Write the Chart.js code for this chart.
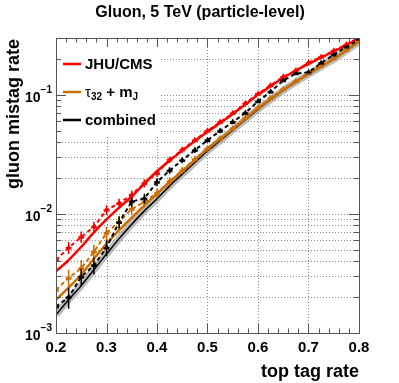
<!DOCTYPE html>
<html>
<head>
<meta charset="utf-8">
<script src="https://cdn.jsdelivr.net/npm/chart.js@4.4.1/dist/chart.umd.min.js"></script>
<style>
  html, body { margin: 0; padding: 0; background: #fff; }
  canvas { display: block; }
</style>
</head>
<body>
<canvas id="mistagChart" width="399" height="383"></canvas>
<script>
// top tag rate (x) sampled every 0.025
const topTagRate = [0.2, 0.225, 0.25, 0.275, 0.3, 0.325, 0.35, 0.375, 0.4, 0.425, 0.45, 0.475, 0.5,
    0.525, 0.55, 0.575, 0.6, 0.625, 0.65, 0.675, 0.7, 0.725, 0.75, 0.775, 0.8];

// smooth curves
const jhuSmooth = [0.0033, 0.0041, 0.0053, 0.0070, 0.0090, 0.0113, 0.0140, 0.0180, 0.0228, 0.0280, 0.0340, 0.0410, 0.0490,
    0.0580, 0.0690, 0.0830, 0.100, 0.118, 0.139, 0.160, 0.182, 0.205, 0.232, 0.262, 0.300];
const tauSmooth = [0.0019, 0.0024, 0.0031, 0.0042, 0.0056, 0.0073, 0.0093, 0.0118, 0.0148, 0.0185, 0.0228, 0.0283, 0.0350,
    0.0425, 0.0515, 0.0630, 0.0770, 0.0920, 0.1100, 0.1290, 0.1500, 0.1730, 0.2000, 0.2360, 0.2800];
const combSmooth = [0.00142, 0.0019, 0.0025, 0.0034, 0.0046, 0.0062, 0.0082, 0.0106, 0.0134, 0.0172, 0.0216, 0.0270, 0.0338,
    0.0412, 0.0505, 0.0618, 0.0755, 0.0910, 0.1090, 0.1280, 0.1490, 0.1720, 0.1990, 0.2350, 0.2780];

// binned points (dashed) with errors
const jhuPoints = [0.0041, 0.0052, 0.0064, 0.0078, 0.0108, 0.0123, 0.0145, 0.0181, 0.0220, 0.0285, 0.0345, 0.0415, 0.0500,
    0.0590, 0.0700, 0.0850, 0.1020, 0.1200, 0.1420, 0.1600, 0.1860, 0.2080, 0.2350, 0.2650, 0.3000];
const jhuErr = [0.0005, 0.0006, 0.0007, 0.0008, 0.0010, 0.0011, 0.0012, 0.0014, 0.0015, 0.0017, 0.0018, 0.0020, 0.0020,
    0.0022, 0.0024, 0.0026, 0.0030, 0.0030, 0.0033, 0.0035, 0.0040, 0.0040, 0.0045, 0.0048, 0.0050];
const tauPoints = [0.0023, 0.0029, 0.0035, 0.0048, 0.0069, 0.0086, 0.0110, 0.0126, 0.0150, 0.0188, 0.0232, 0.0288, 0.0355,
    0.0430, 0.0522, 0.0640, 0.0780, 0.0935, 0.1110, 0.1300, 0.1520, 0.1750, 0.2020, 0.2380, 0.2820];
const tauErr = [0.0004, 0.0005, 0.0006, 0.0007, 0.0009, 0.0010, 0.0012, 0.0013, 0.0014, 0.0015, 0.0016, 0.0018, 0.0020,
    0.0022, 0.0024, 0.0026, 0.0030, 0.0030, 0.0033, 0.0035, 0.0040, 0.0040, 0.0045, 0.0048, 0.0050];
const combPoints = [0.00166, 0.0020, 0.00296, 0.0037, 0.0052, 0.0085, 0.0127, 0.0135, 0.0185, 0.0232, 0.0282, 0.0343, 0.0415,
    0.0498, 0.0590, 0.0705, 0.0880, 0.1060, 0.1320, 0.1510, 0.1540, 0.1850, 0.2170, 0.2530, 0.2900];
const combErr = [0.0003, 0.0004, 0.0005, 0.0006, 0.0008, 0.0010, 0.0012, 0.0013, 0.0014, 0.0015, 0.0016, 0.0018, 0.0020,
    0.0022, 0.0024, 0.0026, 0.0030, 0.0030, 0.0033, 0.0035, 0.0040, 0.0040, 0.0045, 0.0048, 0.0050];

const xTickLabels = ['0.2', '0.3', '0.4', '0.5', '0.6', '0.7', '0.8'];
const yDecades = [0.001, 0.01, 0.1];
const yDecadeExp = ['\u22123', '\u22122', '\u22121'];

const RED = '#ff0000';
const ORANGE = '#cc6e00';
const BLACK = '#000000';
const FONT = '"Liberation Sans", Arial, sans-serif';

function toXY(values) {
    return values.map((v, i) => ({ x: topTagRate[i], y: v }));
}

/**
 * 画 ROOT 风格的网格、边框、刻度和文字
 */
const rootStyle = {
    id: 'rootStyle',
    beforeDatasetsDraw(chart) {
        const { ctx, chartArea: a, scales: { x, y } } = chart;
        ctx.save();
        ctx.strokeStyle = '#8a8a8a';
        ctx.lineWidth = 1;
        ctx.setLineDash([1, 2]);
        for (let d = 0.001; d < 0.31; d *= 10) {
            for (let m = 1; m <= 9; m++) {
                const v = d * m;
                if (v <= 0.0011 || v > 0.29) continue;
                const py = Math.round(y.getPixelForValue(v)) + 0.5;
                ctx.beginPath(); ctx.moveTo(a.left, py); ctx.lineTo(a.right, py); ctx.stroke();
            }
        }
        for (let k = 1; k < 6; k++) {
            const px = Math.round(x.getPixelForValue(0.2 + k * 0.1)) + 0.5;
            ctx.beginPath(); ctx.moveTo(px, a.top); ctx.lineTo(px, a.bottom); ctx.stroke();
        }
        ctx.setLineDash([]);
        // legend background
        ctx.fillStyle = '#fff';
        ctx.fillRect(a.left + 1, a.top + 1, 104, 96);
        ctx.restore();
    },
    afterDatasetsDraw(chart) {
        const { ctx, chartArea: a, scales: { x, y } } = chart;
        ctx.save();
        ctx.beginPath();
        ctx.rect(a.left, a.top, a.right - a.left, a.bottom - a.top);
        ctx.clip();
        ctx.lineWidth = 1.5;
        [[jhuPoints, jhuErr, RED], [tauPoints, tauErr, ORANGE], [combPoints, combErr, BLACK]].forEach(([vals, errs, col]) => {
            ctx.strokeStyle = col;
            vals.forEach((v, i) => {
                const px = x.getPixelForValue(topTagRate[i]);
                const py = y.getPixelForValue(v);
                const hi = y.getPixelForValue(v + errs[i]);
                const lo = y.getPixelForValue(v - errs[i]);
                ctx.beginPath();
                ctx.moveTo(px, hi); ctx.lineTo(px, lo);
                ctx.moveTo(px - 3, py); ctx.lineTo(px + 3, py);
                ctx.stroke();
            });
        });
        ctx.restore();
    },
    afterDraw(chart) {
        const { ctx, chartArea: a, scales: { x, y } } = chart;
        ctx.save();
        // frame
        ctx.strokeStyle = '#555';
        ctx.lineWidth = 1;
        ctx.strokeRect(Math.round(a.left) + 0.5, Math.round(a.top) + 0.5, Math.round(a.right - a.left), Math.round(a.bottom - a.top));

        // x ticks (bottom and top)
        ctx.beginPath();
        for (let k = 0; k <= 30; k++) {
            const px = Math.round(x.getPixelForValue(0.2 + k * 0.02)) + 0.5;
            const len = k % 5 === 0 ? 9 : 4.5;
            ctx.moveTo(px, a.bottom); ctx.lineTo(px, a.bottom - len);
            ctx.moveTo(px, a.top); ctx.lineTo(px, a.top + len);
        }
        // y ticks (left and right)
        for (let d = 0.001; d < 0.31; d *= 10) {
            for (let m = 1; m <= 9; m++) {
                const v = d * m;
                if (v > 0.301) continue;
                const py = Math.round(y.getPixelForValue(v)) + 0.5;
                const len = m === 1 ? 10 : 5;
                ctx.moveTo(a.left, py); ctx.lineTo(a.left + len, py);
                ctx.moveTo(a.right, py); ctx.lineTo(a.right - len, py);
            }
        }
        ctx.stroke();

        ctx.fillStyle = '#000';
        // x tick labels
        ctx.font = 'bold 15px ' + FONT;
        ctx.textAlign = 'center';
        ctx.textBaseline = 'top';
        xTickLabels.forEach(t => {
            ctx.fillText(t, x.getPixelForValue(parseFloat(t)), a.bottom + 7);
        });
        // y tick labels 10^n
        yDecades.forEach((v, i) => {
            const py = y.getPixelForValue(v);
            ctx.textAlign = 'right';
            ctx.textBaseline = 'middle';
            ctx.font = 'bold 10px ' + FONT;
            const ew = ctx.measureText(yDecadeExp[i]).width;
            ctx.fillText(yDecadeExp[i], a.left - 4, py - 5);
            ctx.font = 'bold 14px ' + FONT;
            ctx.fillText('10', a.left - 4 - ew, py + 3);
        });

        // titles
        ctx.font = 'bold 16px ' + FONT;
        ctx.textAlign = 'center';
        ctx.textBaseline = 'middle';
        ctx.fillText('Gluon, 5 TeV (particle-level)', 200, 13);
        ctx.font = 'bold 18px ' + FONT;
        ctx.textAlign = 'right';
        ctx.textBaseline = 'alphabetic';
        ctx.fillText('top tag rate', a.right, 377);
        ctx.save();
        ctx.translate(19, a.top + 1);
        ctx.rotate(-Math.PI / 2);
        ctx.fillText('gluon mistag rate', 0, 0);
        ctx.restore();

        // legend
        const rows = [
            { color: RED, parts: [['JHU/CMS', 'bold 15px', 0]] },
            { color: ORANGE, parts: [['\u03c4', '15px', 0], ['32', 'bold 10px', 4], [' + m', 'bold 15px', 0], ['J', 'bold 10px', 4]] },
            { color: BLACK, parts: [['combined', 'bold 15px', 0]] }
        ];
        rows.forEach((r, i) => {
            const ly = 65 + i * 28;
            ctx.strokeStyle = r.color;
            ctx.lineWidth = 2.5;
            ctx.beginPath(); ctx.moveTo(63, ly - 1); ctx.lineTo(81, ly - 1); ctx.stroke();
            let tx = 85;
            ctx.textAlign = 'left';
            ctx.textBaseline = 'middle';
            r.parts.forEach(([t, f, dy]) => {
                ctx.font = f + ' ' + FONT;
                ctx.fillText(t, tx, ly + dy);
                tx += ctx.measureText(t).width;
            });
        });
        ctx.restore();
    }
};

function renderChart() {
    const ctx = document.getElementById('mistagChart').getContext('2d');
    const smooth = { tension: 0.3, pointRadius: 0, fill: false };
    const dashed = { borderWidth: 2, borderDash: [4, 3], pointRadius: 1.5, pointStyle: 'triangle', fill: false, tension: 0 };

    new Chart(ctx, {
        type: 'line',
        data: {
            datasets: [
                { label: 'combined band', data: toXY(combSmooth), borderColor: 'rgba(160,160,160,0.7)', borderWidth: 7, order: 9, ...smooth },
                { label: 'combined', data: toXY(combSmooth), borderColor: BLACK, borderWidth: 1.5, order: 8, ...smooth },
                { label: 'tau32 + mJ', data: toXY(tauSmooth), borderColor: ORANGE, borderWidth: 2.5, order: 7, ...smooth },
                { label: 'JHU/CMS', data: toXY(jhuSmooth), borderColor: RED, borderWidth: 2.5, order: 6, ...smooth },
                { label: 'combined pts', data: toXY(combPoints), borderColor: BLACK, backgroundColor: BLACK, order: 3, ...dashed },
                { label: 'tau pts', data: toXY(tauPoints), borderColor: ORANGE, backgroundColor: ORANGE, order: 4, ...dashed },
                { label: 'JHU pts', data: toXY(jhuPoints), borderColor: RED, backgroundColor: RED, order: 5, ...dashed }
            ]
        },
        options: {
            responsive: false,
            animation: false,
            layout: { padding: { left: 56, right: 40, top: 38, bottom: 50 } },
            plugins: { legend: { display: false }, tooltip: { enabled: false } },
            scales: {
                x: { type: 'linear', min: 0.2, max: 0.8, display: false },
                y: { type: 'logarithmic', min: 0.001, max: 0.3, display: false }
            }
        },
        plugins: [rootStyle]
    });
}

renderChart();
</script>
</body>
</html>
